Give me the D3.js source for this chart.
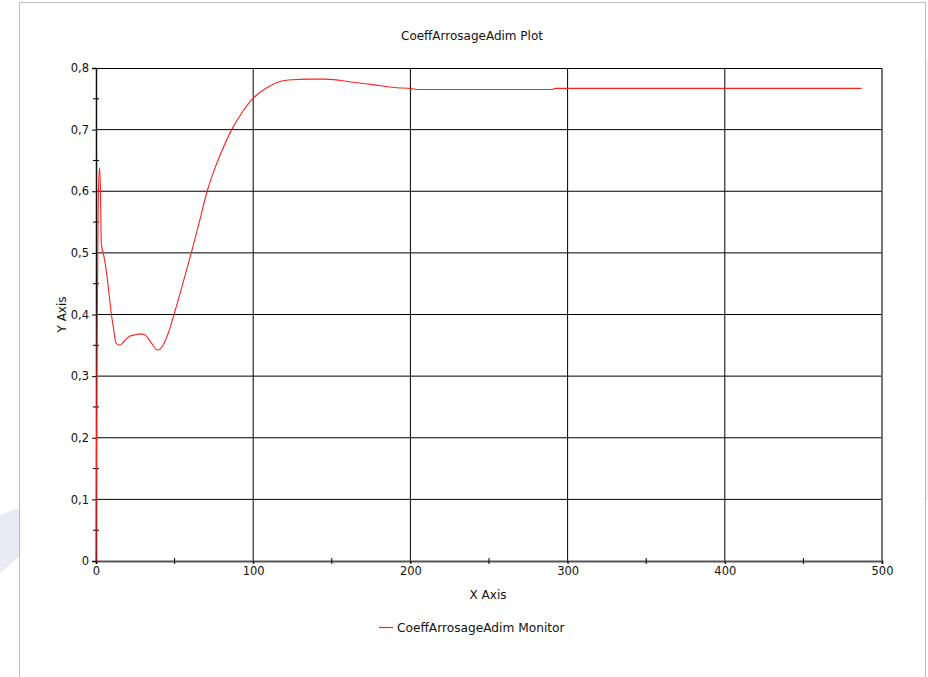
<!DOCTYPE html>
<html>
<head>
<meta charset="utf-8">
<script src="https://cdn.jsdelivr.net/npm/d3@7"></script>
<style>
  html, body { margin: 0; padding: 0; background: #ffffff; }
  svg { display: block; }
  text { font-family: "DejaVu Sans", Verdana, sans-serif; fill: #111; }
</style>
</head>
<body>
<script>
// ---- data ----
const title = "CoeffArrosageAdim Plot";
const seriesName = "CoeffArrosageAdim Monitor";
const xLabel = "X Axis";
const yLabel = "Y Axis";
const xTicks = [0, 100, 200, 300, 400, 500];
const xMinorTicks = [50, 150, 250, 350, 450];
const yTicks = [0, 0.1, 0.2, 0.3, 0.4, 0.5, 0.6, 0.7, 0.8];
const yMinorTicks = [0.05, 0.15, 0.25, 0.35, 0.45, 0.55, 0.65, 0.75];
const xValues = [0, 0.2, 0.8, 1.4, 2.2, 2.8, 3.4, 5, 6.6, 8, 9.8, 11, 12.8, 15.3, 18, 21.6, 25, 28, 31, 35.4, 39.2, 42.8, 46, 49.6, 55, 60.6, 65.7, 70.7, 76, 80, 86.3, 92.7, 100, 108.6, 117, 125, 135, 145, 155, 163.5, 176, 191.5, 200, 205, 290, 292, 487];
const yValues = [0, 0.13, 0.38, 0.58, 0.638, 0.605, 0.515, 0.495, 0.47, 0.44, 0.40, 0.38, 0.353, 0.35, 0.357, 0.365, 0.367, 0.3685, 0.367, 0.353, 0.3425, 0.351, 0.37, 0.4, 0.448, 0.5, 0.55, 0.6, 0.64, 0.665, 0.7, 0.727, 0.751, 0.768, 0.778, 0.781, 0.782, 0.782, 0.780, 0.777, 0.773, 0.768, 0.767, 0.765, 0.765, 0.767, 0.767];

// ---- layout ----
const W = 928, H = 677;
const L = 96, R = 882, T = 68, B = 561;

const svg = d3.select("body").append("svg").attr("width", W).attr("height", H);

// faint watermark pieces outside the frame
svg.append("path").attr("d", "M0,515 L19,508 L19,557 L0,573 Z").attr("fill", "#e9eaf3");
svg.append("path").attr("d", "M926,60 L928,59 L928,500 L926,500 Z").attr("fill", "#f3f3f3");

// frame
svg.append("rect").attr("x", 19.5).attr("y", 2.5).attr("width", 906).attr("height", 700)
  .attr("fill", "#ffffff").attr("stroke", "#bdbdbd").attr("stroke-width", 1);

const x = d3.scaleLinear().domain([0, 500]).range([L, R]);
const y = d3.scaleLinear().domain([0, 0.8]).range([B, T]);
const fmt = d => d === 0 ? "0" : d3.format(".1f")(d).replace(".", ",");

// grid lines
const g = svg.append("g");
g.selectAll(".vg").data(xTicks.slice(1, -1)).join("line")
  .attr("x1", d => x(d)).attr("x2", d => x(d)).attr("y1", T).attr("y2", B + 2)
  .attr("stroke", "#000").attr("stroke-width", 1);
g.selectAll(".hg").data(yTicks.slice(1, -1)).join("line")
  .attr("x1", L).attr("x2", R).attr("y1", d => y(d)).attr("y2", d => y(d))
  .attr("stroke", "#000").attr("stroke-width", 1);

// plot border
g.append("line").attr("x1", L).attr("x2", R).attr("y1", T + 0.5).attr("y2", T + 0.5).attr("stroke", "#000");
g.append("line").attr("x1", R).attr("x2", R).attr("y1", T).attr("y2", B).attr("stroke", "#555").attr("stroke-width", 1.6);

// axes via d3 axis
const xAxis = d3.axisBottom(x).tickValues(xTicks).tickFormat(d => String(d)).tickSize(3).tickPadding(3);
const gx = svg.append("g").attr("transform", `translate(0,${B})`).call(xAxis);
gx.select(".domain").attr("stroke", "#555").attr("stroke-width", 2);
gx.selectAll(".tick line").attr("stroke", "#000");
gx.selectAll("text").attr("font-size", 11.5).style("font-family", "DejaVu Sans, sans-serif").attr("fill", "#111");

const yAxis = d3.axisLeft(y).tickValues(yTicks).tickFormat(fmt).tickSize(4).tickPadding(3);
const gy = svg.append("g").attr("transform", `translate(${L},0)`).call(yAxis);
gy.select(".domain").attr("stroke", "#111").attr("stroke-width", 1.5);
gy.selectAll(".tick line").attr("stroke", "#000");
gy.selectAll("text").attr("font-size", 11.5).style("font-family", "DejaVu Sans, sans-serif").attr("fill", "#111");

// minor ticks crossing the axes
svg.append("g").selectAll("line").data(xMinorTicks).join("line")
  .attr("x1", d => x(d)).attr("x2", d => x(d)).attr("y1", B - 3).attr("y2", B + 3)
  .attr("stroke", "#000");
svg.append("g").selectAll("line").data(yMinorTicks).join("line")
  .attr("x1", L - 3).attr("x2", L + 3).attr("y1", d => y(d)).attr("y2", d => y(d))
  .attr("stroke", "#000");

// series line
const pts = xValues.map((v, i) => [v, yValues[i]]);
const line = d3.line().x(d => x(d[0])).y(d => y(d[1])).curve(d3.curveMonotoneX);
svg.append("path").datum(pts).attr("d", line)
  .attr("fill", "none").attr("stroke", "#ff2020").attr("stroke-width", 1.1);

// title and axis labels
svg.append("text").attr("x", 472).attr("y", 39.5).attr("text-anchor", "middle")
  .attr("font-size", 12).text(title);
svg.append("text").attr("x", (L + R) / 2 - 1).attr("y", 598.5).attr("text-anchor", "middle")
  .attr("font-size", 12).text(xLabel);
svg.append("text").attr("transform", `translate(66,${(T + B) / 2}) rotate(-90)`)
  .attr("text-anchor", "middle").attr("font-size", 12).text(yLabel);

// legend
const lg = svg.append("g");
lg.append("line").attr("x1", 379).attr("x2", 393).attr("y1", 627.5).attr("y2", 627.5)
  .attr("stroke", "#ff2020").attr("stroke-width", 1.2);
lg.append("text").attr("x", 397).attr("y", 632).attr("font-size", 12.2).text(seriesName);
</script>
</body>
</html>
